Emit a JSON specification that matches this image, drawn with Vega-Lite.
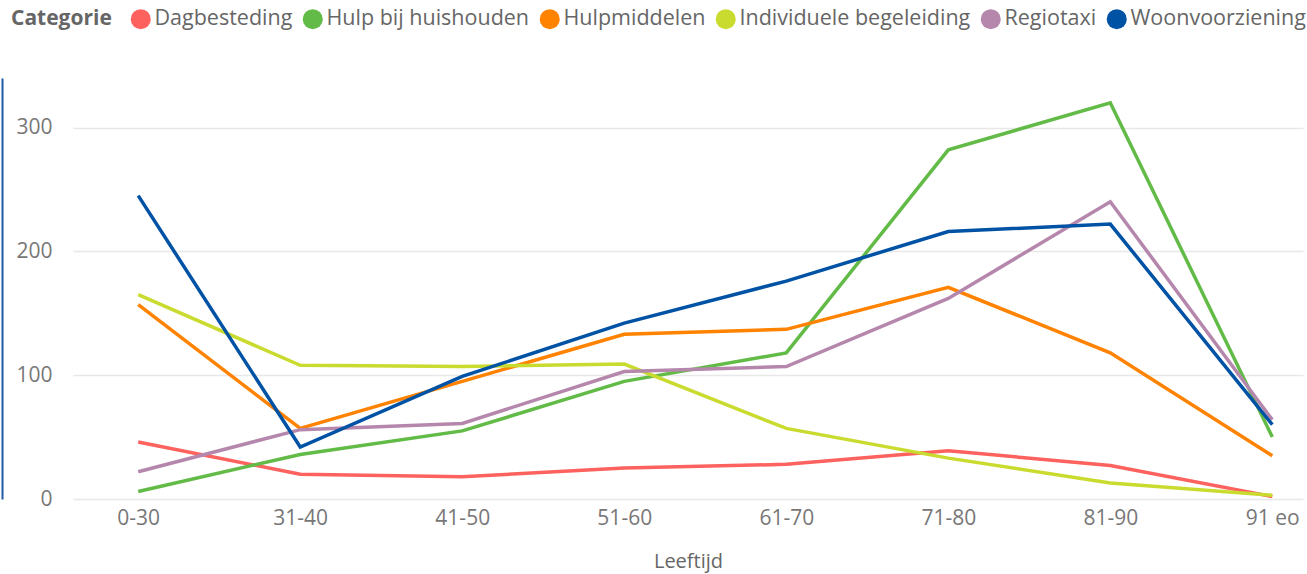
{
  "$schema": "https://vega.github.io/schema/vega-lite/v6.json",
  "width": 1230,
  "height": 421,
  "autosize": {"type": "none"},
  "padding": {"left": 73, "top": 78, "right": 4, "bottom": 75},
  "background": "white",
  "config": {
    "view": {"stroke": null},
    "font": "Open Sans"
  },
  "data": {
    "values": [
      {"Leeftijd": "0-30", "Categorie": "Dagbesteding", "Aantal": 46},
      {"Leeftijd": "31-40", "Categorie": "Dagbesteding", "Aantal": 20},
      {"Leeftijd": "41-50", "Categorie": "Dagbesteding", "Aantal": 18},
      {"Leeftijd": "51-60", "Categorie": "Dagbesteding", "Aantal": 25},
      {"Leeftijd": "61-70", "Categorie": "Dagbesteding", "Aantal": 28},
      {"Leeftijd": "71-80", "Categorie": "Dagbesteding", "Aantal": 39},
      {"Leeftijd": "81-90", "Categorie": "Dagbesteding", "Aantal": 27},
      {"Leeftijd": "91 eo", "Categorie": "Dagbesteding", "Aantal": 2},
      {"Leeftijd": "0-30", "Categorie": "Hulp bij huishouden", "Aantal": 6},
      {"Leeftijd": "31-40", "Categorie": "Hulp bij huishouden", "Aantal": 36},
      {"Leeftijd": "41-50", "Categorie": "Hulp bij huishouden", "Aantal": 55},
      {"Leeftijd": "51-60", "Categorie": "Hulp bij huishouden", "Aantal": 95},
      {"Leeftijd": "61-70", "Categorie": "Hulp bij huishouden", "Aantal": 118},
      {"Leeftijd": "71-80", "Categorie": "Hulp bij huishouden", "Aantal": 282},
      {"Leeftijd": "81-90", "Categorie": "Hulp bij huishouden", "Aantal": 320},
      {"Leeftijd": "91 eo", "Categorie": "Hulp bij huishouden", "Aantal": 50},
      {"Leeftijd": "0-30", "Categorie": "Hulpmiddelen", "Aantal": 157},
      {"Leeftijd": "31-40", "Categorie": "Hulpmiddelen", "Aantal": 57},
      {"Leeftijd": "41-50", "Categorie": "Hulpmiddelen", "Aantal": 95},
      {"Leeftijd": "51-60", "Categorie": "Hulpmiddelen", "Aantal": 133},
      {"Leeftijd": "61-70", "Categorie": "Hulpmiddelen", "Aantal": 137},
      {"Leeftijd": "71-80", "Categorie": "Hulpmiddelen", "Aantal": 171},
      {"Leeftijd": "81-90", "Categorie": "Hulpmiddelen", "Aantal": 118},
      {"Leeftijd": "91 eo", "Categorie": "Hulpmiddelen", "Aantal": 35},
      {"Leeftijd": "0-30", "Categorie": "Individuele begeleiding", "Aantal": 165},
      {"Leeftijd": "31-40", "Categorie": "Individuele begeleiding", "Aantal": 108},
      {"Leeftijd": "41-50", "Categorie": "Individuele begeleiding", "Aantal": 107},
      {"Leeftijd": "51-60", "Categorie": "Individuele begeleiding", "Aantal": 109},
      {"Leeftijd": "61-70", "Categorie": "Individuele begeleiding", "Aantal": 57},
      {"Leeftijd": "71-80", "Categorie": "Individuele begeleiding", "Aantal": 33},
      {"Leeftijd": "81-90", "Categorie": "Individuele begeleiding", "Aantal": 13},
      {"Leeftijd": "91 eo", "Categorie": "Individuele begeleiding", "Aantal": 3},
      {"Leeftijd": "0-30", "Categorie": "Regiotaxi", "Aantal": 22},
      {"Leeftijd": "31-40", "Categorie": "Regiotaxi", "Aantal": 56},
      {"Leeftijd": "41-50", "Categorie": "Regiotaxi", "Aantal": 61},
      {"Leeftijd": "51-60", "Categorie": "Regiotaxi", "Aantal": 103},
      {"Leeftijd": "61-70", "Categorie": "Regiotaxi", "Aantal": 107},
      {"Leeftijd": "71-80", "Categorie": "Regiotaxi", "Aantal": 162},
      {"Leeftijd": "81-90", "Categorie": "Regiotaxi", "Aantal": 240},
      {"Leeftijd": "91 eo", "Categorie": "Regiotaxi", "Aantal": 64},
      {"Leeftijd": "0-30", "Categorie": "Woonvoorziening", "Aantal": 245},
      {"Leeftijd": "31-40", "Categorie": "Woonvoorziening", "Aantal": 42},
      {"Leeftijd": "41-50", "Categorie": "Woonvoorziening", "Aantal": 99},
      {"Leeftijd": "51-60", "Categorie": "Woonvoorziening", "Aantal": 142},
      {"Leeftijd": "61-70", "Categorie": "Woonvoorziening", "Aantal": 176},
      {"Leeftijd": "71-80", "Categorie": "Woonvoorziening", "Aantal": 216},
      {"Leeftijd": "81-90", "Categorie": "Woonvoorziening", "Aantal": 222},
      {"Leeftijd": "91 eo", "Categorie": "Woonvoorziening", "Aantal": 60}
    ]
  },
  "mark": {"type": "line", "strokeWidth": 3.5, "strokeJoin": "miter", "strokeCap": "butt"},
  "encoding": {
    "x": {
      "field": "Leeftijd",
      "type": "ordinal",
      "sort": ["0-30", "31-40", "41-50", "51-60", "61-70", "71-80", "81-90", "91 eo"],
      "scale": {"type": "point", "padding": 0.296, "align": 0.68},
      "axis": {
        "title": "Leeftijd",
        "titleFont": "Open Sans",
        "titleFontSize": 20,
        "titleFontWeight": "normal",
        "titleColor": "#666666",
        "titlePadding": 23,
        "labelFont": "Open Sans",
        "labelFontSize": 21,
        "labelColor": "#777777",
        "labelPadding": 8,
        "labelAngle": 0,
        "ticks": false,
        "domain": false,
        "grid": false
      }
    },
    "y": {
      "field": "Aantal",
      "type": "quantitative",
      "scale": {"domain": [0, 340], "nice": false},
      "axis": {
        "title": null,
        "values": [0, 100, 200, 300],
        "labelFont": "Open Sans",
        "labelFontSize": 21,
        "labelColor": "#777777",
        "labelPadding": -50,
        "offset": 71,
        "ticks": false,
        "domain": true,
        "domainColor": "#1F5AA6",
        "domainWidth": 2,
        "grid": true,
        "gridColor": "#E8E8E8",
        "gridWidth": 1.5
      }
    },
    "color": {
      "field": "Categorie",
      "type": "nominal",
      "scale": {
        "domain": ["Dagbesteding", "Hulp bij huishouden", "Hulpmiddelen", "Individuele begeleiding", "Regiotaxi", "Woonvoorziening"],
        "range": ["#FD625E", "#62BB46", "#FF8200", "#CADB2F", "#B687AC", "#0052A5"]
      },
      "legend": {
        "orient": "none",
        "legendX": -62,
        "legendY": -70,
        "direction": "horizontal",
        "titleOrient": "left",
        "titleAnchor": "start",
        "titleBaseline": "top",
        "title": "Categorie",
        "titleFont": "Open Sans",
        "titleFontSize": 21,
        "titleFontWeight": "bold",
        "titleColor": "#666666",
        "titlePadding": 18,
        "labelFont": "Open Sans",
        "labelFontSize": 21.5,
        "labelColor": "#666666",
        "labelLimit": 0,
        "labelOffset": 3,
        "symbolType": "circle",
        "symbolSize": 400,
        "symbolStrokeWidth": 0,
        "columnPadding": 9,
        "symbolOpacity": 1,
        "encode": {
          "symbols": {
            "update": {
              "fill": {"scale": "color", "field": "value"},
              "strokeWidth": {"value": 0}
            }
          }
        }
      }
    }
  }
}
